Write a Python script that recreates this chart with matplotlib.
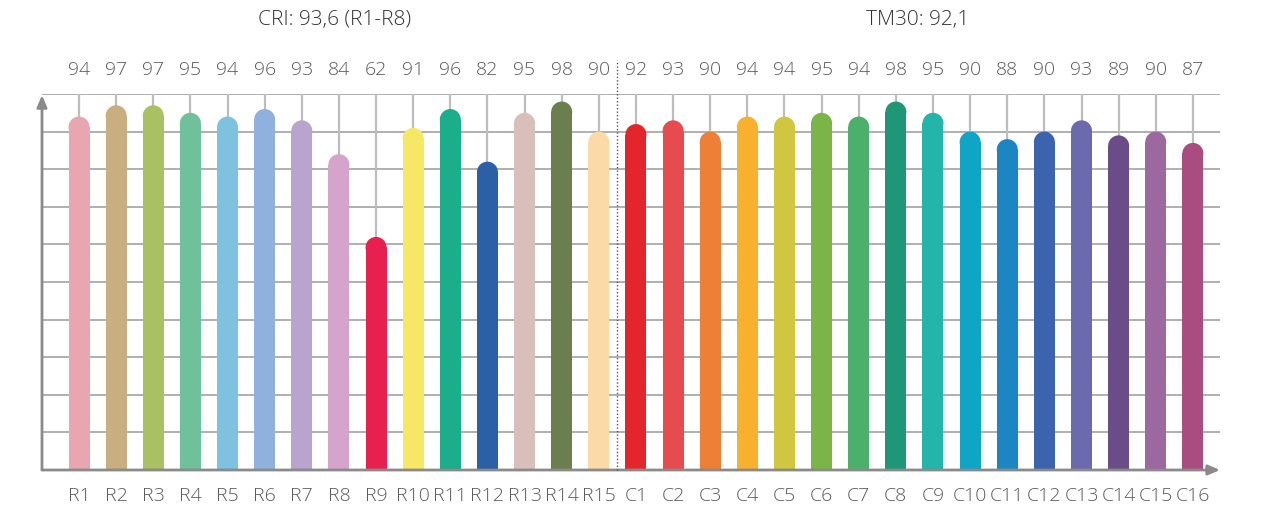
import matplotlib
matplotlib.use("Agg")
import matplotlib.pyplot as plt
from matplotlib.patches import Ellipse
from matplotlib.transforms import blended_transform_factory

plt.rcParams["font.family"] = ["Open Sans", "DejaVu Sans"]

# 显色指数 R1–R15 与 TM30 色样 C1–C16
r_labels = [f"R{i}" for i in range(1, 16)]
r_values = [94, 97, 97, 95, 94, 96, 93, 84, 62, 91, 96, 82, 95, 98, 90]
c_labels = [f"C{i}" for i in range(1, 17)]
c_values = [92, 93, 90, 94, 94, 95, 94, 98, 95, 90, 88, 90, 93, 89, 90, 87]

r_colors = ["#E8A6B1", "#C9AE80", "#A9C162", "#6FC19C", "#7EC2E0", "#90B0DE",
            "#B9A4CE", "#D6A4CB", "#E8204F", "#F6E764", "#1AAE8A", "#2B5FA6",
            "#D8BFB9", "#6B7F4E", "#FCDAA8"]
c_colors = ["#E3262B", "#E64B50", "#EE7F36", "#F8B12E", "#D1C63F", "#7BB548",
            "#4CB06B", "#1E9677", "#23B4AA", "#0FA5C6", "#1C86C3", "#3B63AE",
            "#6B6AAE", "#6A4D86", "#9D67A0", "#A94C7F"]

cri_title = "CRI: 93,6 (R1-R8)"
tm30_title = "TM30: 92,1"

labels = r_labels + c_labels
values = r_values + c_values
colors = r_colors + c_colors
xs = list(range(len(values)))

W, H = 1263, 507
fig = plt.figure(figsize=(W / 100, H / 100), dpi=100)
# 轴区（像素）：x 42–1220，y 94–470
ax = fig.add_axes([42 / W, (H - 470) / H, 1178 / W, 376 / H])
step = 37.13
ax.set_xlim(-37 / step, (1220 - 79) / step)
ax.set_ylim(0, 100)
for s in ax.spines.values():
    s.set_visible(False)
ax.set_xticks([])
ax.set_yticks([])

grid_c = "#9a9a9a"
# 横向网格
for yv in range(10, 101, 10):
    ax.axhline(yv, color=grid_c, lw=1.1, zorder=0)
# 每根柱的竖向网格
for x in xs:
    ax.plot([x, x], [0, 100], color="#bdbdbd", lw=1.6, zorder=0.5, solid_capstyle="butt")

# 圆头柱
bw = 21 / step
r_px = 10.5
r_data = r_px / 3.76
for x, v, c in zip(xs, values, colors):
    ax.bar(x, v - r_data, width=bw, color=c, zorder=2, linewidth=0)
    ax.add_patch(Ellipse((x, v - r_data), bw, 2 * r_data, facecolor=c,
                         edgecolor="none", zorder=2))

# 坐标轴与箭头
axis_c = "#8a8a8a"
ax.annotate("", xy=(1.0, 0), xytext=(0, 0), xycoords="axes fraction",
            arrowprops=dict(arrowstyle="-|>,head_length=0.7,head_width=0.3",
                            color=axis_c, lw=2, shrinkA=0, shrinkB=0), zorder=3)
ax.annotate("", xy=(0, 0.997), xytext=(0, 0), xycoords="axes fraction",
            arrowprops=dict(arrowstyle="-|>,head_length=0.7,head_width=0.3",
                            color=axis_c, lw=2, shrinkA=0, shrinkB=0), zorder=3)

# CRI / TM30 分隔虚线
ax.plot([14.5, 14.5], [0, 109], color="#555555", lw=1, ls=(0, (1, 1.5)),
        clip_on=False, zorder=3)

txt_c = "#5a5a5a"
tr = blended_transform_factory(ax.transData, ax.transAxes)
for x, v, lab in zip(xs, values, labels):
    ax.text(x, 1.064, f"{v}", transform=tr, ha="center", va="center",
            fontsize=14, color=txt_c, fontweight="light")
    ax.text(x, -0.07, lab, transform=tr, ha="center", va="center",
            fontsize=14, color=txt_c, fontweight="light")

fig.text(335 / W, 1 - 20 / H, cri_title, ha="center", va="center",
         fontsize=15, color="#333333", fontweight="light")
fig.text(918 / W, 1 - 20 / H, tm30_title, ha="center", va="center",
         fontsize=15, color="#333333", fontweight="light")

fig.savefig("out.png", dpi=100)
